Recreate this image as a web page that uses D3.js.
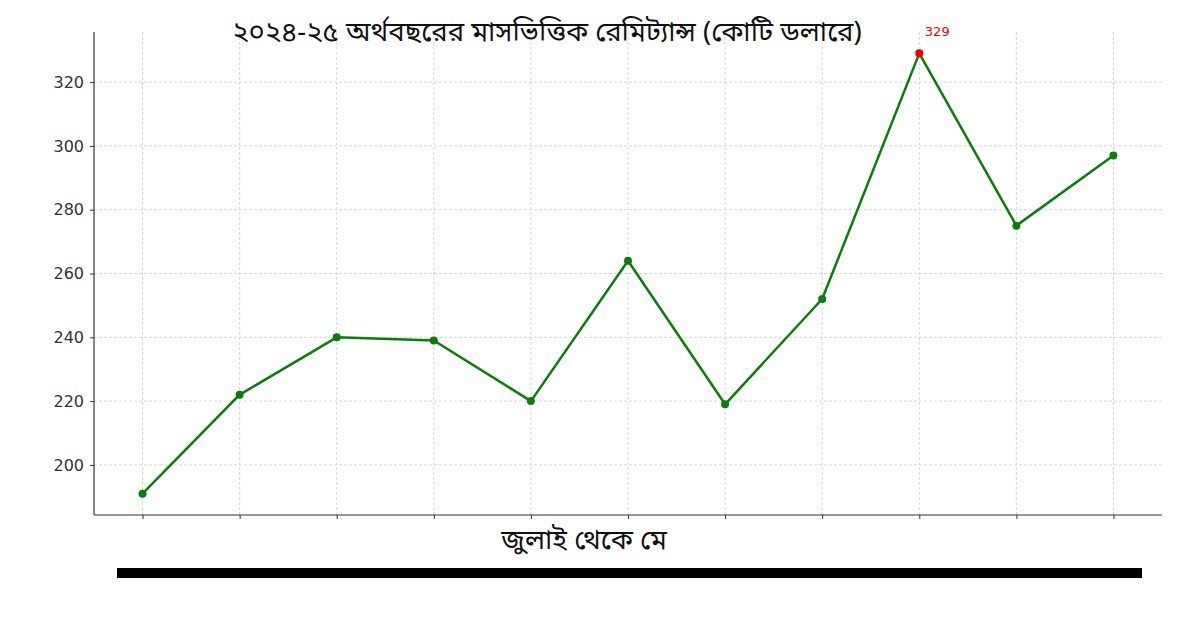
<!DOCTYPE html>
<html><head><meta charset="utf-8">
<script src="https://cdn.jsdelivr.net/npm/d3@7"></script>
<style>
body{margin:0;background:#fff;}
text{font-family:"DejaVu Sans",sans-serif;}
.bn{font-family:"Noto Sans Bengali","Noto Sans","Lohit Bengali","DejaVu Sans",sans-serif;}
</style></head>
<body><svg id="c" width="1200" height="630"></svg>
<script>
const months = ["জুলাই","আগস্ট","সেপ্টেম্বর","অক্টোবর","নভেম্বর","ডিসেম্বর","জানুয়ারি","ফেব্রুয়ারি","মার্চ","এপ্রিল","মে"];
const remittance = [191, 222, 240, 239, 220, 264, 219, 252, 329, 275, 297];
const yTicks = [200, 220, 240, 260, 280, 300, 320];
const title = "২০২৪-২৫ অর্থবছরের মাসভিত্তিক রেমিট্যান্স (কোটি ডলারে)";
const xLabel = "জুলাই থেকে মে";

const svg = d3.select("#c");
const L = 94, R = 1162, T = 32, B = 515;
const x = d3.scaleLinear().domain([-0.5, months.length - 0.5]).range([L, R]);
const y = d3.scaleLinear().domain([184.3, 335.7]).range([B, T]);

// grid
svg.append("g").selectAll("line").data(yTicks).join("line")
  .attr("x1", L).attr("x2", R).attr("y1", d => y(d)).attr("y2", d => y(d))
  .attr("stroke", "#cccccc").attr("stroke-width", 0.8).attr("stroke-dasharray", "3,2");
svg.append("g").selectAll("line").data(d3.range(months.length)).join("line")
  .attr("y1", T).attr("y2", B).attr("x1", d => x(d)).attr("x2", d => x(d))
  .attr("stroke", "#cccccc").attr("stroke-width", 0.8).attr("stroke-dasharray", "3,2");

// axes
const yAxis = d3.axisLeft(y).tickValues(yTicks).tickSize(4).tickPadding(6);
const gy = svg.append("g").attr("transform", `translate(${L},0)`).call(yAxis);
gy.select(".domain").attr("d", `M0,${T}V${B}`).attr("stroke", "#333").attr("stroke-width", 1.2);
gy.selectAll(".tick line").attr("stroke", "#333");
gy.selectAll(".tick text").attr("font-size", 16).attr("fill", "#333").attr("font-family", "DejaVu Sans");

const xAxis = d3.axisBottom(x).tickValues(d3.range(months.length)).tickSize(4).tickFormat("");
const gx = svg.append("g").attr("transform", `translate(0,${B})`).call(xAxis);
gx.select(".domain").attr("d", `M${L},0H${R}`).attr("stroke", "#333").attr("stroke-width", 1.2);
gx.selectAll(".tick line").attr("stroke", "#333");

// line
const line = d3.line().x((d, i) => x(i)).y(d => y(d));
svg.append("path").datum(remittance).attr("d", line)
  .attr("fill", "none").attr("stroke", "#0a7d0a").attr("stroke-width", 2.5).attr("stroke-linejoin", "round");

const maxV = d3.max(remittance);
svg.append("g").selectAll("circle").data(remittance).join("circle")
  .attr("cx", (d, i) => x(i)).attr("cy", d => y(d)).attr("r", 4)
  .attr("fill", d => d === maxV ? "#ee0000" : "#0a7d0a");

const mi = remittance.indexOf(maxV);
svg.append("text").attr("x", x(mi) + 18).attr("y", y(maxV) - 17)
  .attr("text-anchor", "middle").attr("font-size", 13).attr("fill", "#ee0000").text(maxV);

// title & label
svg.append("text").attr("class", "bn").attr("x", 547).attr("y", 41)
  .attr("text-anchor", "middle").attr("font-size", 27.5).attr("fill", "#111").text(title);
svg.append("text").attr("class", "bn").attr("x", 584).attr("y", 549)
  .attr("text-anchor", "middle").attr("font-size", 27.5).attr("fill", "#111").text(xLabel);

// black bar
svg.append("rect").attr("x", 117).attr("y", 568).attr("width", 1025).attr("height", 10).attr("fill", "#000");
</script></body></html>
